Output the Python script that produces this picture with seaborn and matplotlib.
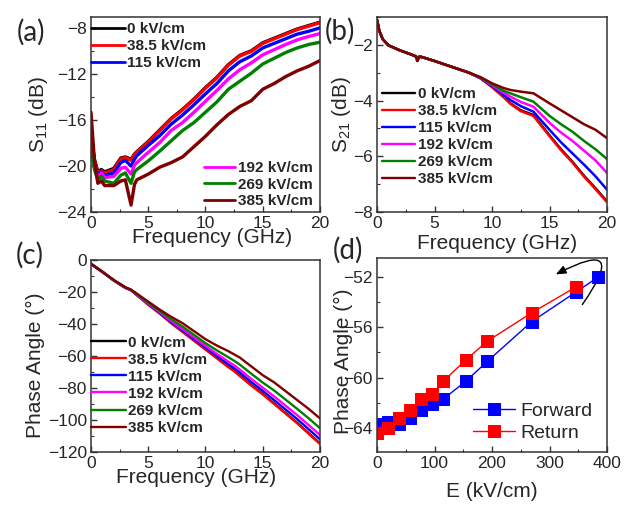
import matplotlib
matplotlib.use("Agg")
import matplotlib.pyplot as plt
import seaborn as sns
from matplotlib.lines import Line2D
from matplotlib.patches import FancyArrowPatch
from matplotlib.ticker import MultipleLocator

# field values / colours shared by panels a-c
field_labels = ["0 kV/cm", "38.5 kV/cm", "115 kV/cm", "192 kV/cm", "269 kV/cm", "385 kV/cm"]
field_colors = ["black", "#ff0000", "#0000ff", "#ff00ff", "#008000", "#800000"]

# (a) S11 vs frequency
freq_a = [0, 0.3, 0.6, 0.9, 1.2, 2, 2.6, 3, 3.5, 3.8, 4, 5, 6, 7, 8, 9, 10, 11, 12, 13, 14, 15, 16, 17, 18, 19, 20]
s11_0 = [-17.3, -19.4, -20.5, -20.3, -20.5, -20.2, -19.3, -19.2, -19.4, -18.95, -18.75, -17.85, -16.85, -15.85, -15.05, -14.15, -13.15, -12.25, -11.15, -10.35, -9.95, -9.25, -8.85, -8.45, -8.05, -7.75, -7.45]
s11_38 = [-17.5, -19.5, -20.6, -20.4, -20.6, -20.3, -19.4, -19.25, -19.5, -19.0, -18.8, -17.9, -16.9, -15.9, -15.1, -14.2, -13.2, -12.3, -11.2, -10.4, -10.0, -9.3, -8.9, -8.5, -8.1, -7.8, -7.5]
s11_115 = [-17.7, -19.8, -20.8, -20.5, -20.8, -20.6, -19.7, -19.5, -20.0, -19.4, -19.1, -18.2, -17.35, -16.35, -15.55, -14.65, -13.7, -12.8, -11.7, -10.9, -10.4, -9.7, -9.3, -8.9, -8.5, -8.25, -7.95]
s11_192 = [-17.9, -20.0, -21.0, -20.6, -21.0, -20.9, -20.2, -20.1, -20.7, -19.9, -19.7, -18.8, -17.95, -16.9, -16.2, -15.3, -14.35, -13.4, -12.4, -11.6, -11.0, -10.3, -9.85, -9.4, -9.0, -8.7, -8.45]
s11_269 = [-18.0, -20.3, -21.2, -20.9, -21.3, -21.5, -20.8, -20.6, -21.5, -20.5, -20.3, -19.55, -18.7, -17.8, -16.9, -16.2, -15.3, -14.4, -13.3, -12.6, -11.9, -11.1, -10.6, -10.1, -9.7, -9.4, -9.2]
s11_385 = [-15.3, -19.5, -21.5, -21.3, -21.7, -21.7, -21.3, -21.2, -23.4, -21.6, -21.2, -20.7, -20.1, -19.7, -19.2, -18.3, -17.4, -16.4, -15.5, -14.8, -14.3, -13.3, -12.8, -12.2, -11.7, -11.3, -10.8]

# (b) S21 vs frequency
freq_b = [0, 0.2, 0.5, 1, 2, 3, 3.4, 3.5, 3.7, 4, 5, 6, 7, 8, 9, 10, 11, 11.6, 12.5, 13.6, 15, 16, 17, 18, 19, 20]
s21_0 = [-1.1, -1.5, -1.8, -2.02, -2.2, -2.35, -2.42, -2.58, -2.42, -2.45, -2.58, -2.72, -2.86, -3.0, -3.2, -3.5, -3.85, -4.1, -4.35, -4.52, -5.25, -5.75, -6.2, -6.7, -7.15, -7.62]
s21_38 = [-1.1, -1.5, -1.8, -2.02, -2.2, -2.35, -2.42, -2.5, -2.42, -2.45, -2.58, -2.72, -2.86, -3.0, -3.2, -3.52, -3.88, -4.12, -4.38, -4.55, -5.28, -5.78, -6.23, -6.73, -7.18, -7.65]
s21_115 = [-1.1, -1.5, -1.8, -2.02, -2.2, -2.35, -2.42, -2.5, -2.42, -2.45, -2.58, -2.72, -2.86, -3.0, -3.2, -3.48, -3.8, -3.98, -4.2, -4.4, -5.05, -5.5, -5.9, -6.3, -6.72, -7.2]
s21_192 = [-1.1, -1.5, -1.8, -2.02, -2.2, -2.35, -2.42, -2.5, -2.42, -2.45, -2.58, -2.72, -2.86, -3.0, -3.19, -3.45, -3.72, -3.86, -4.05, -4.22, -4.8, -5.15, -5.45, -5.8, -6.15, -6.6]
s21_269 = [-1.1, -1.5, -1.8, -2.02, -2.2, -2.35, -2.42, -2.5, -2.42, -2.45, -2.58, -2.72, -2.86, -3.0, -3.18, -3.42, -3.65, -3.74, -3.88, -4.04, -4.55, -4.85, -5.12, -5.45, -5.75, -6.1]
s21_385 = [-1.1, -1.5, -1.8, -2.02, -2.2, -2.35, -2.42, -2.58, -2.42, -2.45, -2.58, -2.72, -2.86, -3.0, -3.16, -3.38, -3.55, -3.62, -3.68, -3.74, -4.1, -4.35, -4.6, -4.85, -5.05, -5.35]

# (c) phase angle vs frequency
freq_c = [0, 1, 2, 3, 3.5, 4, 5, 6, 7, 8, 9, 10, 11, 12, 12.5, 13, 14, 15, 16, 17, 18, 19, 20]
ph_0 = [-2.2, -7.2, -12.7, -17.2, -18.7, -21.7, -27.7, -33.2, -39.2, -44.7, -50.2, -55.7, -61.2, -66.7, -69.2, -72.2, -78.2, -83.7, -89.7, -95.7, -101.7, -108.2, -114.7]
ph_38 = [-2.5, -7.5, -13, -17.5, -19, -22, -28, -33.5, -39.5, -45, -50.5, -56, -61.5, -67, -69.5, -72.5, -78.5, -84, -90, -96, -102, -108.5, -115]
ph_115 = [-2.5, -7.5, -12.9, -17.4, -18.9, -21.8, -27.6, -33.0, -38.8, -44.0, -49.4, -54.8, -60.1, -65.2, -67.6, -70.4, -76.3, -81.8, -87.6, -93.5, -99.4, -105.7, -112.1]
ph_192 = [-2.5, -7.5, -12.8, -17.3, -18.8, -21.65, -27.3, -32.6, -38.1, -43.1, -48.4, -53.7, -58.7, -63.5, -65.8, -68.5, -74.3, -79.8, -85.3, -91.1, -96.9, -103.1, -109.4]
ph_269 = [-2.5, -7.5, -12.7, -17.2, -18.7, -21.4, -26.8, -32.0, -37.0, -41.6, -46.8, -52.0, -56.5, -60.8, -63.0, -65.4, -71.1, -76.6, -81.6, -87.3, -93.0, -98.9, -105.1]
ph_385 = [-2.5, -7.5, -12.5, -17, -18.5, -21, -26, -31, -35.5, -39.5, -44.5, -49.5, -53.5, -57, -59, -61, -66.5, -72, -76.5, -82, -87.5, -93, -99]

# (d) phase angle vs field, forward and return sweep
e_forward = [0, 19.2, 38.5, 57.7, 77, 96, 115, 154, 192, 269, 346, 385]
ph_forward = [-63.66, -63.5, -63.66, -63.2, -62.55, -62.08, -61.7, -60.3, -58.7, -55.55, -53.2, -52.0]
e_return = [346, 269, 192, 154, 115, 96, 77, 57.7, 38.5, 19.2, 0]
ph_return = [-52.8, -54.85, -57.1, -58.6, -60.3, -61.3, -61.7, -62.6, -63.2, -64.0, -64.4]

sns.set_style("ticks")
plt.rcParams['font.family'] = ['Liberation Sans', 'DejaVu Sans']
plt.rcParams['mathtext.default'] = 'regular'
plt.rcParams['axes.edgecolor'] = '#333333'
plt.rcParams['axes.linewidth'] = 1.1

fig = plt.figure(figsize=(6.24, 5.07), dpi=100)
ax_a = fig.add_axes([0.1458, 0.5819, 0.367, 0.3846])
ax_b = fig.add_axes([0.6042, 0.5819, 0.3686, 0.3846])
ax_c = fig.add_axes([0.1458, 0.1085, 0.367, 0.3787])
ax_d = fig.add_axes([0.6042, 0.1085, 0.3686, 0.3826])


def style_axis(ax, xmaj, xmin, ymaj, ymin):
    ax.xaxis.set_major_locator(MultipleLocator(xmaj))
    ax.xaxis.set_minor_locator(MultipleLocator(xmin))
    ax.yaxis.set_major_locator(MultipleLocator(ymaj))
    ax.yaxis.set_minor_locator(MultipleLocator(ymin))
    ax.tick_params(which='both', direction='in', labelsize=12.5, pad=3, color='#333333')
    ax.tick_params(which='major', length=4, width=1)
    ax.tick_params(which='minor', length=2.5, width=0.8)
    for sp in ax.spines.values():
        sp.set_visible(True)


def field_handles(idx, lw):
    return [Line2D([], [], color=field_colors[i], lw=lw, label=field_labels[i]) for i in idx]


leg_font = {'weight': 'bold', 'size': 11}

# panel a
for vals, c in zip([s11_0, s11_38, s11_115, s11_192, s11_269, s11_385], field_colors):
    sns.lineplot(x=freq_a, y=vals, color=c, lw=2.4, ax=ax_a)
ax_a.set_xlim(0, 20)
ax_a.set_ylim(-24, -7)
style_axis(ax_a, 5, 2.5, 4, 2)
ax_a.set_xlabel("Frequency (GHz)", fontsize=15)
ax_a.set_ylabel("$S_{11}$ (dB)", fontsize=15)
ax_a.xaxis.set_label_coords(0.53, -0.08)
ax_a.yaxis.set_label_coords(-0.18, 0.5)
leg1 = ax_a.legend(handles=field_handles([0, 1, 2], 2), loc='upper left', bbox_to_anchor=(0, 0.975),
                   frameon=False, prop=leg_font, handlelength=2.2, handletextpad=0.15,
                   labelspacing=0.2, borderpad=0, borderaxespad=0)
ax_a.add_artist(leg1)
ax_a.legend(handles=field_handles([3, 4, 5], 2), loc='lower left', bbox_to_anchor=(0.493, 0.02),
            frameon=False, prop=leg_font, handlelength=2.05, handletextpad=0.2,
            labelspacing=0.15, borderpad=0, borderaxespad=0)

# panel b
for vals, c in zip([s21_0, s21_38, s21_115, s21_192, s21_269, s21_385], field_colors):
    sns.lineplot(x=freq_b, y=vals, color=c, lw=1.8, ax=ax_b)
ax_b.set_xlim(0, 20)
ax_b.set_ylim(-8, -1)
style_axis(ax_b, 5, 2.5, 2, 1)
ax_b.set_xlabel("Frequency (GHz)", fontsize=15)
ax_b.set_ylabel("$S_{21}$ (dB)", fontsize=15)
ax_b.xaxis.set_label_coords(0.52, -0.115)
ax_b.yaxis.set_label_coords(-0.105, 0.5)
ax_b.legend(handles=field_handles(range(6), 1.7), loc='upper left', bbox_to_anchor=(0.02, 0.64),
            frameon=False, prop=leg_font, handlelength=2.2, handletextpad=0.15,
            labelspacing=0.2, borderpad=0, borderaxespad=0)

# panel c
for vals, c in zip([ph_0, ph_38, ph_115, ph_192, ph_269, ph_385], field_colors):
    sns.lineplot(x=freq_c, y=vals, color=c, lw=1.7, ax=ax_c)
ax_c.set_xlim(0, 20)
ax_c.set_ylim(-120, 0)
style_axis(ax_c, 5, 2.5, 20, 10)
ax_c.set_xlabel("Frequency (GHz)", fontsize=15)
ax_c.set_ylabel("Phase Angle (°)", fontsize=15)
ax_c.xaxis.set_label_coords(0.46, -0.085)
ax_c.yaxis.set_label_coords(-0.2, 0.45)
ax_c.legend(handles=field_handles(range(6), 1.7), loc='upper left', bbox_to_anchor=(0, 0.606),
            frameon=False, prop=leg_font, handlelength=2.3, handletextpad=0.15,
            labelspacing=0.2, borderpad=0, borderaxespad=0)

# panel d
sns.lineplot(x=e_forward, y=ph_forward, color='#0000ff', lw=1, marker='s', markersize=8,
             markeredgecolor='#0000ff', ax=ax_d, sort=False, label='Forward')
sns.lineplot(x=e_return, y=ph_return, color='#ff0000', lw=1, marker='s', markersize=8,
             markeredgecolor='#ff0000', ax=ax_d, sort=False, label='Return')
ax_d.set_xlim(0, 400)
ax_d.set_ylim(-65.9, -50.5)
style_axis(ax_d, 100, 50, 4, 2)
ax_d.set_xlabel("E (kV/cm)", fontsize=15)
ax_d.set_ylabel("Phase Angle (°)", fontsize=15)
ax_d.xaxis.set_label_coords(0.5, -0.155)
ax_d.yaxis.set_label_coords(-0.105, 0.47)
ax_d.legend(loc='upper left', bbox_to_anchor=(0.416, 0.255), frameon=False, fontsize=14,
            handlelength=2.2, handletextpad=0.25, labelspacing=0.2, borderpad=0, borderaxespad=0)
arrow = FancyArrowPatch((357, -54.2), (311, -51.8), connectionstyle="arc3,rad=2.05",
                        arrowstyle="-|>,head_length=0.6,head_width=0.25", mutation_scale=10,
                        color='black', lw=1, shrinkA=0, shrinkB=0)
ax_d.add_patch(arrow)

# panel letters
for txt, x, y in [("(a)", 0.05, 0.937), ("(b)", 0.544, 0.939), ("(c)", 0.048, 0.497), ("(d)", 0.557, 0.507)]:
    fig.text(x, y, txt, fontsize=20, family=['Lato', 'DejaVu Sans'], ha='center', va='center')

fig.savefig("out.png", dpi=100)
